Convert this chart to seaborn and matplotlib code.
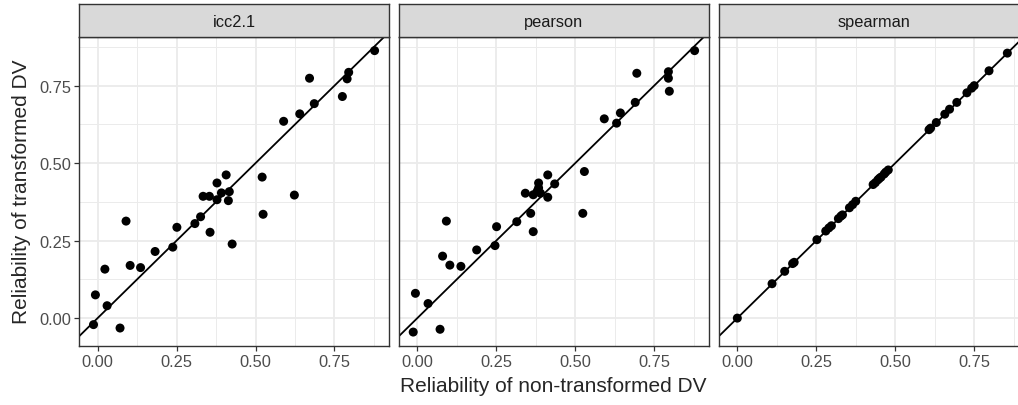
import numpy as np
import pandas as pd
import matplotlib
import matplotlib.pyplot as plt
import seaborn as sns

matplotlib.use('Agg')

## valores
icc_x = [0.671, 0.790, 0.795, 0.877, 0.775, 0.686, 0.640, 0.589, 0.521, 0.623,
         0.524, 0.407, 0.378, 0.392, 0.417, 0.334, 0.354, 0.378, 0.414, 0.326,
         0.308, 0.356, 0.426, 0.251, 0.238, 0.182, 0.090, 0.103, 0.136, 0.023,
         -0.007, 0.030, -0.013, 0.071]
icc_y = [0.774, 0.772, 0.793, 0.863, 0.715, 0.692, 0.659, 0.635, 0.455, 0.397,
         0.335, 0.462, 0.436, 0.404, 0.408, 0.393, 0.393, 0.382, 0.379, 0.327,
         0.305, 0.277, 0.239, 0.293, 0.229, 0.215, 0.313, 0.170, 0.163, 0.158,
         0.075, 0.040, -0.021, -0.032]

pearson_x = [0.878, 0.795, 0.795, 0.798, 0.695, 0.690, 0.643, 0.631, 0.592, 0.529,
             0.524, 0.413, 0.435, 0.384, 0.342, 0.367, 0.390, 0.384, 0.413, 0.359,
             0.315, 0.367, 0.251, 0.246, 0.188, 0.092, 0.080, 0.103, 0.138, -0.006,
             0.034, -0.013, 0.072, 0.380]
pearson_y = [0.863, 0.795, 0.774, 0.732, 0.790, 0.696, 0.662, 0.629, 0.643, 0.473,
             0.338, 0.462, 0.433, 0.436, 0.403, 0.398, 0.403, 0.420, 0.390, 0.338,
             0.311, 0.279, 0.295, 0.234, 0.220, 0.313, 0.200, 0.171, 0.167, 0.080,
             0.047, -0.045, -0.036, 0.410]

spearman_x = [0.000, 0.110, 0.150, 0.175, 0.180, 0.252, 0.280, 0.290, 0.298, 0.320,
              0.328, 0.333, 0.355, 0.365, 0.375, 0.430, 0.437, 0.445, 0.455, 0.465,
              0.470, 0.478, 0.607, 0.612, 0.630, 0.657, 0.672, 0.695, 0.727, 0.742,
              0.750, 0.797, 0.855, 0.450]
spearman_y = [0.000, 0.111, 0.151, 0.176, 0.180, 0.253, 0.281, 0.291, 0.298, 0.321,
              0.329, 0.333, 0.356, 0.366, 0.377, 0.431, 0.437, 0.446, 0.455, 0.465,
              0.471, 0.478, 0.608, 0.613, 0.631, 0.658, 0.674, 0.696, 0.727, 0.742,
              0.750, 0.798, 0.855, 0.451]

metodos = ['icc2.1', 'pearson', 'spearman']
ticks = [0.00, 0.25, 0.50, 0.75]
tick_labels = ['0.00', '0.25', '0.50', '0.75']

df = pd.concat([
    pd.DataFrame({'x': icc_x, 'y': icc_y, 'method': 'icc2.1'}),
    pd.DataFrame({'x': pearson_x, 'y': pearson_y, 'method': 'pearson'}),
    pd.DataFrame({'x': spearman_x, 'y': spearman_y, 'method': 'spearman'}),
])

sns.set_theme(style="white")
plt.rcParams['font.family'] = ['Liberation Sans', 'DejaVu Sans']

W, H = 1018, 406
g = sns.FacetGrid(df, col='method', col_order=metodos, sharex=True, sharey=True,
                  despine=False, height=4, aspect=0.8)
g.map_dataframe(sns.scatterplot, x='x', y='y', color='black', s=42,
                edgecolor='none', zorder=3)
g.set_titles("")
g.set_axis_labels("", "")
fig = g.figure
fig.set_size_inches(W / 100, H / 100)

# posiciones en pixeles (izq, arriba, ancho, alto)
lefts = [79.3, 399.0, 719.0]
pw = 309.5
ptop, pbot = 38.0, 346.7
stop = 5.0

for i, ax in enumerate(g.axes.flat):
    ax.set_position([lefts[i] / W, 1 - pbot / H, pw / W, (pbot - ptop) / H])
    ax.axline((0, 0), slope=1, color='black', lw=1.3, zorder=2)
    ax.set_xticks(ticks)
    ax.set_xticklabels(tick_labels)
    ax.set_yticks(ticks)
    ax.set_yticklabels(tick_labels)
    ax.set_xticks(np.arange(-0.125, 1.0, 0.25), minor=True)
    ax.set_yticks(np.arange(-0.125, 1.0, 0.25), minor=True)
    ax.set_xlim(-0.058, 0.922)
    ax.set_ylim(-0.089, 0.907)
    ax.grid(True, which='major', color='#EBEBEB', lw=1.3, zorder=0)
    ax.grid(True, which='minor', color='#EBEBEB', lw=0.7, zorder=0)
    ax.set_axisbelow(True)
    ax.set_facecolor('white')
    ax.tick_params(which='major', length=3.5, width=0.9, color='#333333',
                   labelsize=11.8, labelcolor='#4D4D4D', pad=2.5,
                   bottom=True, left=(i == 0), labelleft=(i == 0))
    ax.tick_params(which='minor', length=0)
    for sp in ax.spines.values():
        sp.set_color('#333333')
        sp.set_linewidth(1.0)

    # franja con el nombre del metodo
    sax = fig.add_axes([lefts[i] / W, 1 - ptop / H, pw / W, (ptop - stop) / H])
    sax.set_facecolor('#D9D9D9')
    sax.set_xticks([])
    sax.set_yticks([])
    for sp in sax.spines.values():
        sp.set_color('#333333')
        sp.set_linewidth(1.0)
    sax.text(0.5, 0.48, metodos[i], ha='center', va='center', fontsize=11.8,
             color='#1A1A1A', transform=sax.transAxes)

fig.text(553.5 / W, 1 - 387 / H, 'Reliability of non-transformed DV',
         ha='center', va='center', fontsize=15)
fig.text(22 / W, 1 - 192 / H, 'Reliability of transformed DV',
         ha='center', va='center', rotation=90, fontsize=15)

fig.savefig('out.png', dpi=100)
